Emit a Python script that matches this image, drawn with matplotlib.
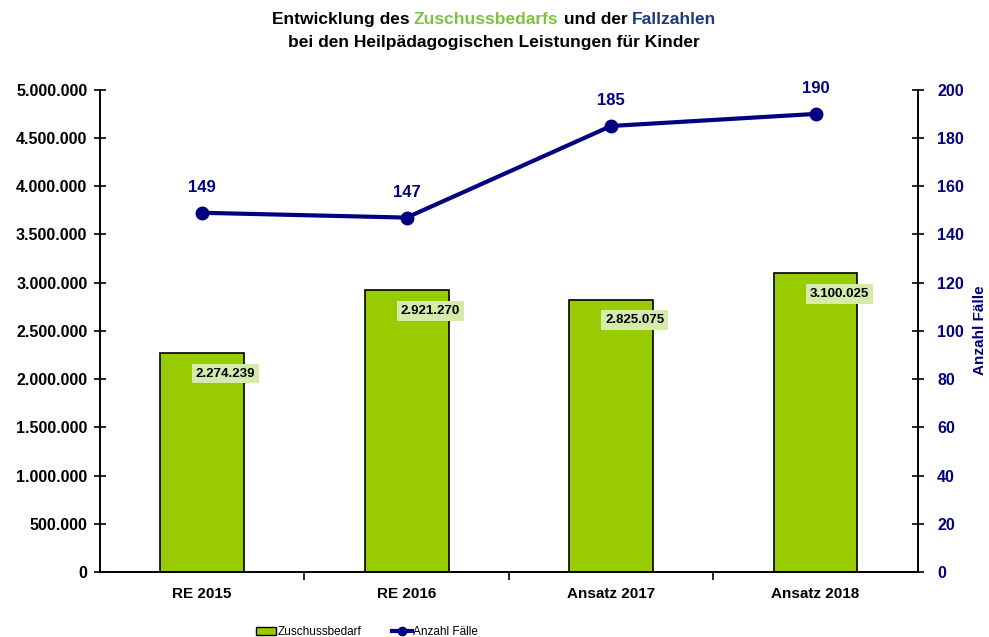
import matplotlib
matplotlib.use("Agg")
import matplotlib.pyplot as plt
from matplotlib.lines import Line2D
from matplotlib.patches import Patch

categories = ["RE 2015", "RE 2016", "Ansatz 2017", "Ansatz 2018"]
zuschuss = [2274239, 2921270, 2825075, 3100025]
faelle = [149, 147, 185, 190]
left_ticks = [0, 500000, 1000000, 1500000, 2000000, 2500000, 3000000, 3500000, 4000000, 4500000, 5000000]
right_ticks = [0, 20, 40, 60, 80, 100, 120, 140, 160, 180, 200]

plt.rcParams['font.family'] = ['Liberation Sans', 'DejaVu Sans']

GREEN = '#99CC00'
NAVY = '#000080'

def fmt(v):
    return f"{v:,}".replace(",", ".")

fig = plt.figure(figsize=(9.89, 6.37), dpi=100)
ax = fig.add_axes([0.101, 0.102, 0.827, 0.757])
ax2 = ax.twinx()

x = list(range(len(categories)))
ax.bar(x, zuschuss, width=0.41, color=GREEN, edgecolor='black', linewidth=1.2, zorder=2)
ax.set_xlim(-0.5, len(categories) - 0.5)
ax.set_ylim(0, 5000000)
ax.set_yticks(left_ticks)
ax.set_yticklabels([fmt(v) for v in left_ticks], fontsize=11.5, fontweight='bold')
ax.set_xticks(x)
ax.set_xticklabels(categories, fontsize=11, fontweight='bold')
ax.tick_params(axis='x', length=0, pad=11)
ax.set_xticks([0.5, 1.5, 2.5], minor=True)
ax.tick_params(axis='x', which='minor', length=6, direction='out', width=1.2)
ax.tick_params(axis='y', direction='inout', length=8, width=1.2, pad=5)

for i, v in enumerate(zuschuss):
    ax.annotate(fmt(v), xy=(i, v), xytext=(17, -15), textcoords='offset points',
                ha='center', va='center', fontsize=9.5, fontweight='bold',
                bbox=dict(boxstyle='square,pad=0.3', facecolor='#d4ebaa', edgecolor='none'),
                zorder=5)

ax2.plot(x, faelle, color=NAVY, linewidth=3, marker='o', markersize=9, zorder=4)
ax2.set_ylim(0, 200)
ax2.set_yticks(right_ticks)
ax2.set_yticklabels([str(v) for v in right_ticks], fontsize=11.5, fontweight='bold', color=NAVY)
ax2.tick_params(axis='y', direction='inout', length=8, width=1.2, pad=10)
for i, v in enumerate(faelle):
    ax2.annotate(str(v), xy=(i, v), xytext=(0, 13), textcoords='offset points',
                 ha='center', va='bottom', fontsize=12, fontweight='bold', color=NAVY)

figw = fig.get_figwidth() * fig.dpi
figh = fig.get_figheight() * fig.dpi
fig.text(980 / figw, 1 - 330 / figh, 'Anzahl Fälle', fontsize=11, fontweight='bold', color=NAVY,
         rotation=90, ha='center', va='center')

for a in (ax, ax2):
    a.spines['top'].set_visible(False)
    for s in ('left', 'right', 'bottom'):
        a.spines[s].set_linewidth(1.2)

# title with coloured parts
fig.canvas.draw()
r = fig.canvas.get_renderer()
parts = [("Entwicklung des ", 'black'), ("Zuschussbedarfs", '#7DC242'), (" und der ", 'black'), ("Fallzahlen", '#1F3A7A')]
ts = []
for txt, c in parts:
    t = fig.text(0, 0.970, txt, color=c, fontsize=12.5, fontweight='bold', ha='left', va='center')
    ts.append(t)
widths = [t.get_window_extent(r).width for t in ts]
total = sum(widths)
xpos = 494 - total / 2
for t, w in zip(ts, widths):
    t.set_x(xpos / figw)
    xpos += w
fig.text(494 / figw, 0.933, "bei den Heilpädagogischen Leistungen für Kinder", fontsize=12.5,
         fontweight='bold', ha='center', va='center')

handles = [Patch(facecolor=GREEN, edgecolor='black', label='Zuschussbedarf'),
           Line2D([0], [0], color=NAVY, linewidth=3, marker='o', markersize=6, label='Anzahl Fälle')]
fig.legend(handles=handles, loc='lower left', bbox_to_anchor=(0.248, -0.018), ncol=2,
           frameon=False, handlelength=1.7, handletextpad=0.1, columnspacing=2.6,
           prop={'size': 8.5})

fig.savefig('out.png', dpi=100)
